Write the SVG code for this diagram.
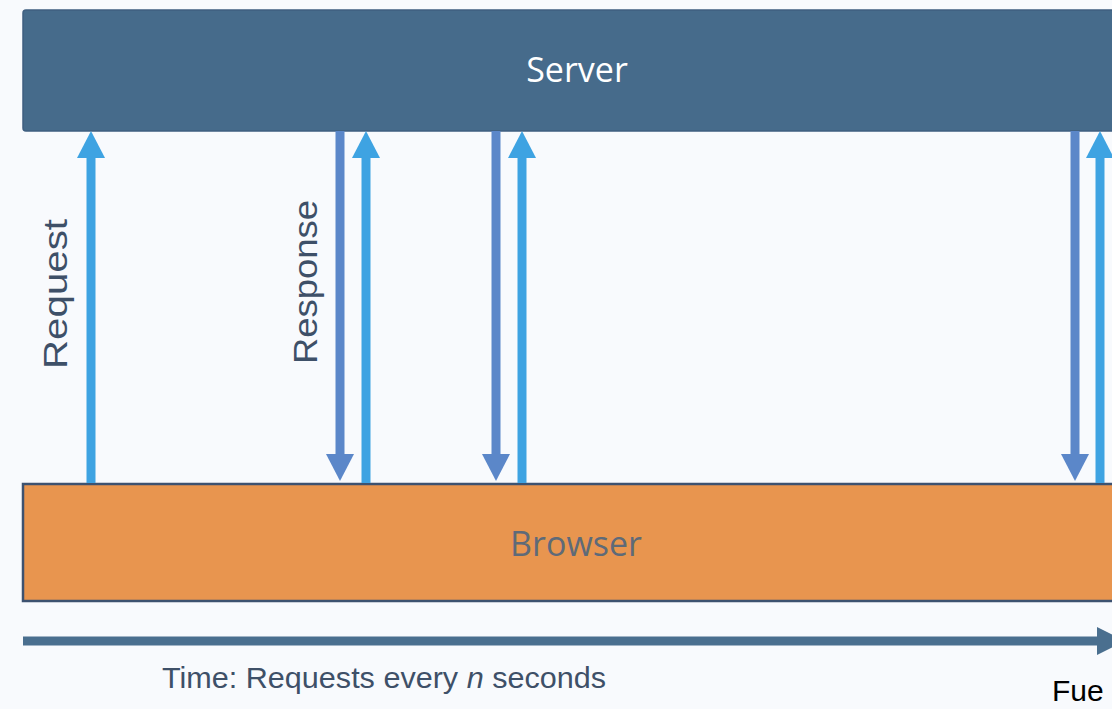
<svg xmlns="http://www.w3.org/2000/svg" width="1112" height="709" viewBox="0 0 1112 709">
<style>
.lbl{font-family:"Liberation Sans",Arial,sans-serif;fill:#3e5068}
.box{font-family:"Open Sans","Liberation Sans",sans-serif;font-weight:500}
.up{stroke:#3ea3e2;stroke-width:9;fill:none}
.down{stroke:#5b87c9;stroke-width:9;fill:none}
</style>
<rect width="1112" height="709" fill="#f8fafd"/>
<g id="server">
<rect x="23" y="10" width="1100" height="121" rx="3" fill="#466b8b" stroke="#3f5f80" stroke-width="1.5"/>
<text class="box" x="577" y="82" font-size="34" fill="#ffffff" text-anchor="middle">Server</text>
</g>
<g id="browser">
<rect x="23" y="484" width="1100" height="117" fill="#e8954f" stroke="#3d5270" stroke-width="2.5"/>
<text class="box" x="576" y="556" font-size="34" fill="#5e6a78" text-anchor="middle">Browser</text>
</g>
<g id="connectors">
<line class="up" x1="91" y1="483" x2="91" y2="157"/>
<path d="M77,158 L91,131 L105,158 Z" fill="#3ea3e2"/>
<line class="down" x1="340" y1="131" x2="340" y2="455"/>
<path d="M326,454 L354,454 L340,481 Z" fill="#5b87c9"/>
<line class="up" x1="366" y1="483" x2="366" y2="157"/>
<path d="M352,158 L366,131 L380,158 Z" fill="#3ea3e2"/>
<line class="down" x1="496" y1="131" x2="496" y2="455"/>
<path d="M482,454 L510,454 L496,481 Z" fill="#5b87c9"/>
<line class="up" x1="522" y1="483" x2="522" y2="157"/>
<path d="M508,158 L522,131 L536,158 Z" fill="#3ea3e2"/>
<line class="down" x1="1075" y1="131" x2="1075" y2="455"/>
<path d="M1061,454 L1089,454 L1075,481 Z" fill="#5b87c9"/>
<line class="up" x1="1100" y1="483" x2="1100" y2="157"/>
<path d="M1086,158 L1100,131 L1114,158 Z" fill="#3ea3e2"/>
<line x1="23" y1="641" x2="1100" y2="641" stroke="#4a6f8f" stroke-width="9"/>
<path d="M1097,627 L1125,641 L1097,655 Z" fill="#4a6f8f"/>
</g>
<g id="labels">
<text class="lbl" font-size="34" transform="translate(67,294) rotate(-90)" text-anchor="middle" textLength="150" lengthAdjust="spacingAndGlyphs">Request</text>
<text class="lbl" font-size="34" transform="translate(317,282) rotate(-90)" text-anchor="middle" textLength="164" lengthAdjust="spacingAndGlyphs">Response</text>
<text class="lbl" x="162" y="688" font-size="29" fill="#3a4c66" textLength="444" lengthAdjust="spacingAndGlyphs">Time: Requests every <tspan font-style="italic">n</tspan> seconds</text>
<text x="1052" y="701" font-family="Liberation Sans,Arial,sans-serif" font-size="30" fill="#000000">Fue</text>
</g>
</svg>
